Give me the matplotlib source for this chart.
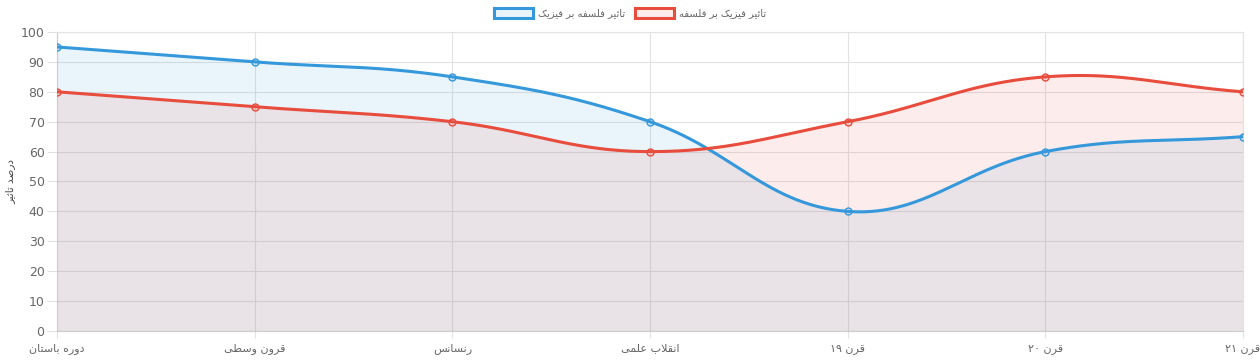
import matplotlib
matplotlib.use("Agg")
import matplotlib.pyplot as plt
from matplotlib.patches import Patch
import numpy as np

categories = ["دوره باستان", "قرون وسطی", "رنسانس", "انقلاب علمی", "قرن ۱۹", "قرن ۲۰", "قرن ۲۱"]
philo_on_phys = [95, 90, 85, 70, 40, 60, 65]
phys_on_philo = [80, 75, 70, 60, 70, 85, 80]
series_names = ["تاثیر فلسفه بر فیزیک", "تاثیر فیزیک بر فلسفه"]
y_title = "درصد تاثیر"
y_ticks = list(range(0, 101, 10))

BLUE = "#3498db"
RED = "#e74c3c"

# minimal arabic shaping: isolated, final, initial, medial
FORMS = {
    "ا": (0xFE8D, 0xFE8E, None, None),
    "ب": (0xFE8F, 0xFE90, 0xFE91, 0xFE92),
    "ت": (0xFE95, 0xFE96, 0xFE97, 0xFE98),
    "ث": (0xFE99, 0xFE9A, 0xFE9B, 0xFE9C),
    "د": (0xFEA9, 0xFEAA, None, None),
    "ر": (0xFEAD, 0xFEAE, None, None),
    "ز": (0xFEAF, 0xFEB0, None, None),
    "س": (0xFEB1, 0xFEB2, 0xFEB3, 0xFEB4),
    "ص": (0xFEB9, 0xFEBA, 0xFEBB, 0xFEBC),
    "ط": (0xFEC1, 0xFEC2, 0xFEC3, 0xFEC4),
    "ع": (0xFEC9, 0xFECA, 0xFECB, 0xFECC),
    "ف": (0xFED1, 0xFED2, 0xFED3, 0xFED4),
    "ق": (0xFED5, 0xFED6, 0xFED7, 0xFED8),
    "ل": (0xFEDD, 0xFEDE, 0xFEDF, 0xFEE0),
    "م": (0xFEE1, 0xFEE2, 0xFEE3, 0xFEE4),
    "ن": (0xFEE5, 0xFEE6, 0xFEE7, 0xFEE8),
    "ه": (0xFEE9, 0xFEEA, 0xFEEB, 0xFEEC),
    "و": (0xFEED, 0xFEEE, None, None),
    "ی": (0xFBFC, 0xFBFD, 0xFBFE, 0xFBFF),
    "ک": (0xFB8E, 0xFB8F, 0xFB90, 0xFB91),
}
LAM_ALEF = (0xFEFB, 0xFEFC)


def joins_next(c):
    return c in FORMS and FORMS[c][2] is not None


def shape(word):
    out = []
    i = 0
    n = len(word)
    while i < n:
        c = word[i]
        if c not in FORMS:
            out.append(c)
            i += 1
            continue
        prev = word[i - 1] if i > 0 else ""
        jp = joins_next(prev)
        if c == "ل" and i + 1 < n and word[i + 1] == "ا":
            out.append(chr(LAM_ALEF[1] if jp else LAM_ALEF[0]))
            i += 2
            continue
        nxt = word[i + 1] if i + 1 < n else ""
        jn = joins_next(c) and nxt in FORMS
        iso, fin, ini, med = FORMS[c]
        if jp and jn:
            g = med
        elif jp:
            g = fin
        elif jn:
            g = ini
        else:
            g = iso
        out.append(chr(g))
        i += 1
    # visual order: reverse, keep digit runs left-to-right
    runs = []
    for ch in out:
        is_d = ch.isdigit()
        if runs and runs[-1][0] == is_d:
            runs[-1][1].append(ch)
        else:
            runs.append([is_d, [ch]])
    vis = ""
    for is_d, chars in reversed(runs):
        vis += "".join(chars) if is_d else "".join(reversed(chars))
    return vis


plt.rcParams["font.family"] = ["DejaVu Sans"]

fig = plt.figure(figsize=(12.6, 3.6), dpi=100)
ax = fig.add_axes([57 / 1260, 1 - 331 / 360, (1243 - 57) / 1260, (331 - 32) / 360])
x = np.arange(len(categories))
ax.set_xlim(0, len(categories) - 1)
ax.set_ylim(0, 100)


def spline(xs, ys, t=0.4):
    # chart.js style bezier through points, computed in pixel space
    pts = ax.transData.transform(np.column_stack([xs, ys]))
    m = len(pts)
    curve = []
    for i in range(m - 1):
        p1, p2 = pts[i], pts[i + 1]
        p0 = pts[i - 1] if i > 0 else p1
        p3 = pts[i + 2] if i + 2 < m else p2
        d01 = np.hypot(*(p1 - p0)); d12 = np.hypot(*(p2 - p1)); d23 = np.hypot(*(p3 - p2))
        fb = t * d12 / (d01 + d12)
        c1 = p1 + fb * (p2 - p0)
        fa = t * d12 / (d12 + d23)
        c2 = p2 - fa * (p3 - p1)
        s = np.linspace(0, 1, 60)[:, None]
        seg = (1 - s) ** 3 * p1 + 3 * (1 - s) ** 2 * s * c1 + 3 * (1 - s) * s ** 2 * c2 + s ** 3 * p2
        curve.append(seg if i == 0 else seg[1:])
    curve = np.vstack(curve)
    return ax.transData.inverted().transform(curve).T


for vals, col in [(philo_on_phys, BLUE), (phys_on_philo, RED)]:
    cx, cy = spline(x, vals)
    ax.fill_between(cx, 0, cy, color=col, alpha=0.1, linewidth=0, zorder=2)
    ax.plot(cx, cy, color=col, linewidth=2.2, zorder=3, solid_capstyle="round")
    ax.plot(x, vals, linestyle="none", marker="o", markersize=5, markeredgewidth=1,
            markeredgecolor=col, markerfacecolor=matplotlib.colors.to_rgba(col, 0.1), zorder=4)

ax.set_yticks(y_ticks)
ax.set_xticks(x)
ax.set_xticklabels([shape(c) for c in categories], fontsize=8, color="#666666")
ax.tick_params(axis="y", labelsize=9, labelcolor="#666666", length=7, width=0.8, color="#e2e2e2", pad=2)
ax.tick_params(axis="x", length=5, width=0.8, color="#e2e2e2", pad=4)
ax.grid(True, color="#e2e2e2", linewidth=0.8, zorder=0)
ax.set_axisbelow(True)
for sp in ax.spines.values():
    sp.set_color("#e2e2e2")
    sp.set_linewidth(0.8)
ax.spines["left"].set_color("#cccccc")
ax.spines["bottom"].set_color("#cccccc")

ax.set_ylabel(shape(y_title), fontsize=7.5, color="#444444", labelpad=4)

handles = [Patch(facecolor=matplotlib.colors.to_rgba(c, 0.1), edgecolor=c, linewidth=2.2)
           for c in (BLUE, RED)]
fig.legend(handles, [shape(s) for s in series_names], loc="upper center", bbox_to_anchor=(0.5, 1.0),
           ncol=2, frameon=False, fontsize=7.2, labelcolor="#666666", handlelength=3.9,
           handleheight=1.1, handletextpad=0.5, columnspacing=1.0, borderpad=0.3)

fig.savefig("out.png", dpi=100)
